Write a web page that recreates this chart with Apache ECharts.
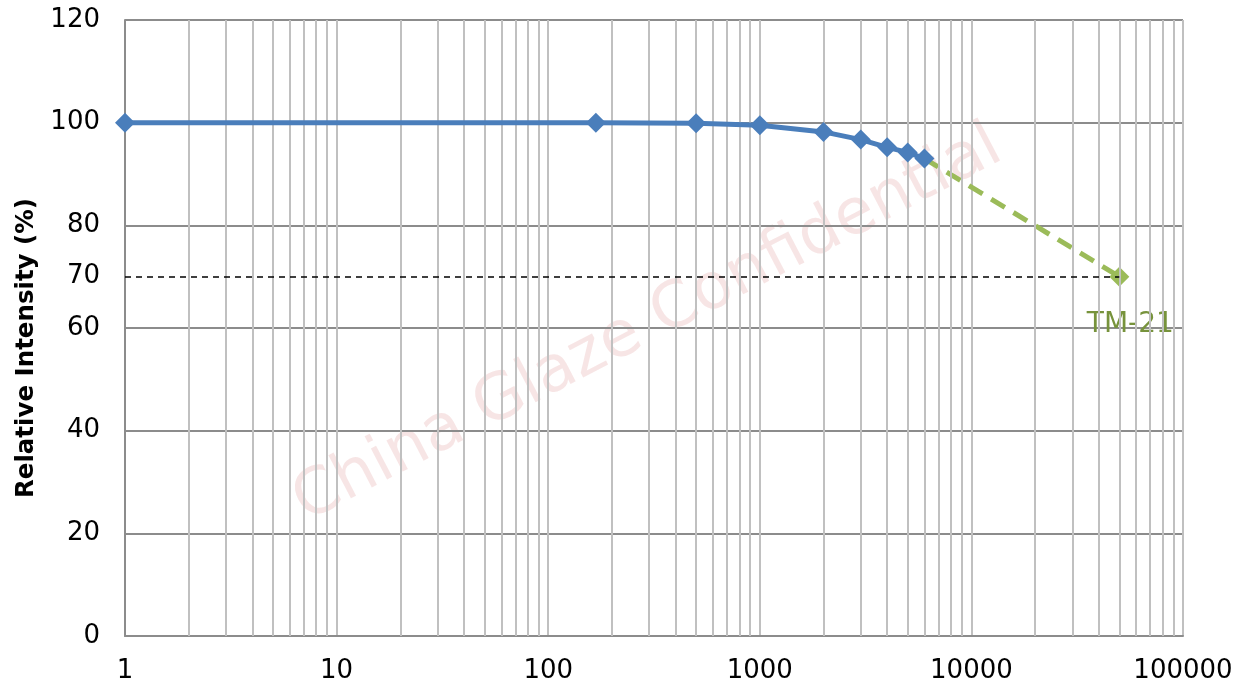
<!DOCTYPE html>
<html><head><meta charset="utf-8">
<script src="https://cdn.jsdelivr.net/npm/echarts@6/dist/echarts.min.js"></script>
<style>html,body{margin:0;padding:0;background:#fff}#c{width:1237px;height:684px}</style>
</head><body><div id="c"></div>
<script>
const hours = [1, 168, 500, 1000, 2000, 3000, 4000, 5000, 6000];
const intensity = [100, 100, 99.9, 99.5, 98.2, 96.7, 95.2, 94.2, 93.0];
const projHours = [6000, 50000];
const projIntensity = [93.0, 70.0];
const limitValue = 70;
const yLabels = [0, 20, 40, 60, 70, 80, 100, 120];
const minorMultipliers = [2, 3, 4, 5, 6, 7, 8, 9];
const decades = [1, 10, 100, 1000, 10000];

const minorLines = [];
decades.forEach(d => minorMultipliers.forEach(m => minorLines.push({ xAxis: d * m })));

const font = 'DejaVu Sans';
const chart = echarts.init(document.getElementById('c'));
chart.setOption({
  animation: false,
  grid: { left: 125, right: 54, top: 20, bottom: 48 },
  graphic: [{
    type: 'text',
    x: 648, y: 325,
    rotation: 27.5 * Math.PI / 180,
    style: { text: 'China Glaze Confidential', font: '64px ' + font, fill: 'rgba(228,160,160,0.28)', align: 'center', verticalAlign: 'middle' },
    z: 0
  }],
  xAxis: {
    type: 'log', logBase: 10, min: 1, max: 100000,
    axisLine: { show: true, lineStyle: { color: '#8c8c8c', width: 2 } },
    axisTick: { show: false },
    axisLabel: { color: '#000', fontSize: 26, fontFamily: font, margin: 22, formatter: v => String(v) },
    splitLine: { show: true, lineStyle: { color: '#c0c0c0', width: 2 } }
  },
  yAxis: {
    type: 'value', min: 0, max: 120, interval: 10,
    name: 'Relative Intensity (%)', nameLocation: 'middle', nameGap: 83,
    nameTextStyle: { fontSize: 24.5, fontWeight: 'bold', fontFamily: font, color: '#000', padding: [0, 40, 0, 0] },
    axisLine: { show: true, lineStyle: { color: '#8c8c8c', width: 2 } },
    axisTick: { show: false },
    axisLabel: {
      color: '#000', fontSize: 26, fontFamily: font, margin: 25,
      formatter: v => yLabels.indexOf(v) >= 0 ? String(v) : ''
    },
    splitLine: { show: true, lineStyle: { color: ['#8c8c8c', 'rgba(0,0,0,0)'], width: 2 } }
  },
  series: [
    {
      type: 'line', data: [], silent: true,
      markLine: {
        silent: true, symbol: 'none', label: { show: false },
        lineStyle: { color: '#c0c0c0', width: 2, type: 'solid' },
        data: minorLines
      }
    },
    {
      type: 'line', data: [], silent: true, z: 3,
      markLine: {
        silent: true, symbol: 'none', label: { show: false },
        lineStyle: { color: '#000', width: 1.5, type: [6, 5] },
        data: [[{ coord: [1, limitValue] }, { coord: [projHours[1], limitValue] }]]
      }
    },
    {
      type: 'line', z: 4,
      data: projHours.map((h, i) => ({
        value: [h, projIntensity[i]],
        symbol: i === 0 ? 'none' : 'diamond',
        label: i === 0 ? { show: false } : {
          show: true, position: 'bottom', distance: 24, offset: [11, 0],
          formatter: 'TM-21', color: '#77933c', fontSize: 28, fontFamily: font
        }
      })),
      symbolSize: 20,
      lineStyle: { color: '#9bbb59', width: 5, type: [16, 10] },
      itemStyle: { color: '#9bbb59' }
    },
    {
      type: 'line', z: 5,
      data: hours.map((h, i) => [h, intensity[i]]),
      symbol: 'diamond', symbolSize: 20,
      lineStyle: { color: '#4a7ebb', width: 5 },
      itemStyle: { color: '#4a7ebb' }
    }
  ]
});
</script></body></html>
